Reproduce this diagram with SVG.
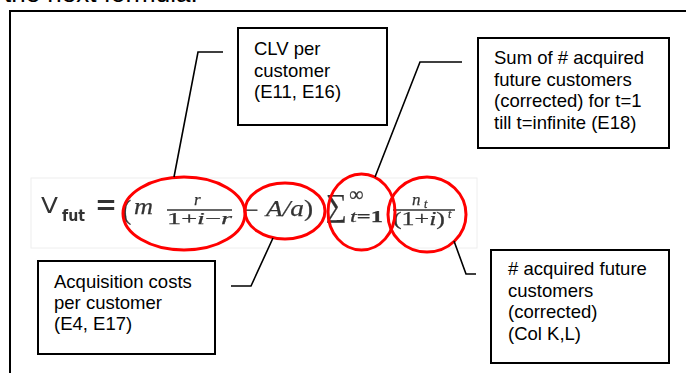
<svg xmlns="http://www.w3.org/2000/svg" width="686" height="373" viewBox="0 0 686 373">
  <defs>
    <style>
      .box { fill: #fff; stroke: #000; stroke-width: 2; }
      .lbl { font-family: "Liberation Sans", Arial, sans-serif; font-size: 18.5px; fill: #000; }
      .wire { fill: none; stroke: #000; stroke-width: 1.6; }
      .ring { fill: none; stroke: #f00; stroke-width: 3; }
      .math { font-family: "Liberation Serif", "Times New Roman", serif; fill: #333; stroke: #333; stroke-width: 0.25; }
      .it { font-style: italic; }
      .sans { font-family: "DejaVu Sans", sans-serif; fill: #333; }
    </style>
    <filter id="soft" x="-5%" y="-5%" width="110%" height="110%">
      <feGaussianBlur stdDeviation="0.35"/>
    </filter>
  </defs>

  <rect width="686" height="373" fill="#fff"/>

  <!-- heading text cut off by the frame top -->
  <text x="4" y="2" font-family="Liberation Sans, Arial, sans-serif" font-size="26" fill="#000">the next formula:</text>

  <!-- outer frame -->
  <path d="M10,373 V11 H686" fill="none" stroke="#000" stroke-width="2"/>

  <!-- formula -->
  <g id="formula">
    <rect x="31" y="178" width="446" height="70" fill="#fff" stroke="#eeeeee" stroke-width="1"/>
    <g filter="url(#soft)">
      <text class="sans" x="41" y="213" font-size="22" textLength="17" lengthAdjust="spacingAndGlyphs">V</text>
      <text class="sans" x="62" y="221" font-size="15" font-weight="bold" textLength="23" lengthAdjust="spacingAndGlyphs">fut</text>
      <text class="sans" x="95" y="216" font-size="36" textLength="22" lengthAdjust="spacingAndGlyphs">=</text>
      <text class="math" x="122" y="219" font-size="28">(</text>
      <text class="math it" x="134" y="214" font-size="24" textLength="19" lengthAdjust="spacingAndGlyphs">m</text>
      <text class="math it" x="194" y="205" font-size="17">r</text>
      <line x1="167" y1="210" x2="232" y2="210" stroke="#333" stroke-width="1.4"/>
      <text class="math" x="167" y="224" font-size="17" textLength="65" lengthAdjust="spacingAndGlyphs">1+<tspan class="it">i</tspan>−<tspan class="it">r</tspan></text>
      <text class="math" x="245" y="218" font-size="24">−</text>
      <text class="math" x="266" y="216" font-size="24" textLength="47" lengthAdjust="spacingAndGlyphs"><tspan class="it">A/a</tspan>)</text>
      <text class="math" x="326" y="216" font-size="32" textLength="21" lengthAdjust="spacingAndGlyphs">∑</text>
      <text class="math" x="349" y="201" font-size="20">∞</text>
      <text class="math" x="350" y="222" font-size="17" font-weight="bold" textLength="33" lengthAdjust="spacingAndGlyphs"><tspan class="it" font-weight="normal">t</tspan>=1</text>
      <text class="math it" x="412" y="205" font-size="17">n</text>
      <text class="math it" x="424" y="208" font-size="12">t</text>
      <line x1="393" y1="210" x2="455" y2="210" stroke="#333" stroke-width="1.4"/>
      <text class="math" x="393" y="225" font-size="18" textLength="52" lengthAdjust="spacingAndGlyphs">(1+<tspan class="it">i</tspan>)</text>
      <text class="math it" x="448" y="218" font-size="12">t</text>
    </g>
    <!-- highlight rings -->
    <ellipse class="ring" cx="184" cy="213.5" rx="61" ry="36.5"/>
    <ellipse class="ring" cx="285" cy="211" rx="40" ry="28"/>
    <ellipse class="ring" cx="361.5" cy="212" rx="33.5" ry="38"/>
    <ellipse class="ring" cx="427" cy="214.5" rx="39" ry="37.5"/>
  </g>

  <!-- connectors -->
  <g id="connectors">
    <polyline class="wire" points="223,52 198,52 174,177"/>
    <polyline class="wire" points="462,62 420,62 375,177"/>
    <polyline class="wire" points="231,286 251,286 273,238"/>
    <polyline class="wire" points="454,241 466,274 476,274"/>
  </g>

  <!-- callout boxes -->
  <g id="clv">
    <rect class="box" x="238" y="28" width="149" height="97"/>
    <text class="lbl" x="254" y="55">CLV per</text>
    <text class="lbl" x="254" y="76.5">customer</text>
    <text class="lbl" x="254" y="98">(E11, E16)</text>
  </g>

  <g id="sum">
    <rect class="box" x="478" y="38" width="191" height="110"/>
    <text class="lbl" x="494" y="64">Sum of # acquired</text>
    <text class="lbl" x="494" y="85.5">future customers</text>
    <text class="lbl" x="494" y="107">(corrected) for t=1</text>
    <text class="lbl" x="494" y="128.5">till t=infinite (E18)</text>
  </g>

  <g id="acquisition">
    <rect class="box" x="38" y="261" width="177" height="93"/>
    <text class="lbl" x="54" y="288">Acquisition costs</text>
    <text class="lbl" x="54" y="309">per customer</text>
    <text class="lbl" x="54" y="330">(E4, E17)</text>
  </g>

  <g id="acquired">
    <rect class="box" x="491" y="250" width="178" height="113"/>
    <text class="lbl" x="508" y="275">#  acquired future</text>
    <text class="lbl" x="508" y="296.5">customers</text>
    <text class="lbl" x="508" y="318">(corrected)</text>
    <text class="lbl" x="508" y="339.5">(Col K,L)</text>
  </g>
</svg>
